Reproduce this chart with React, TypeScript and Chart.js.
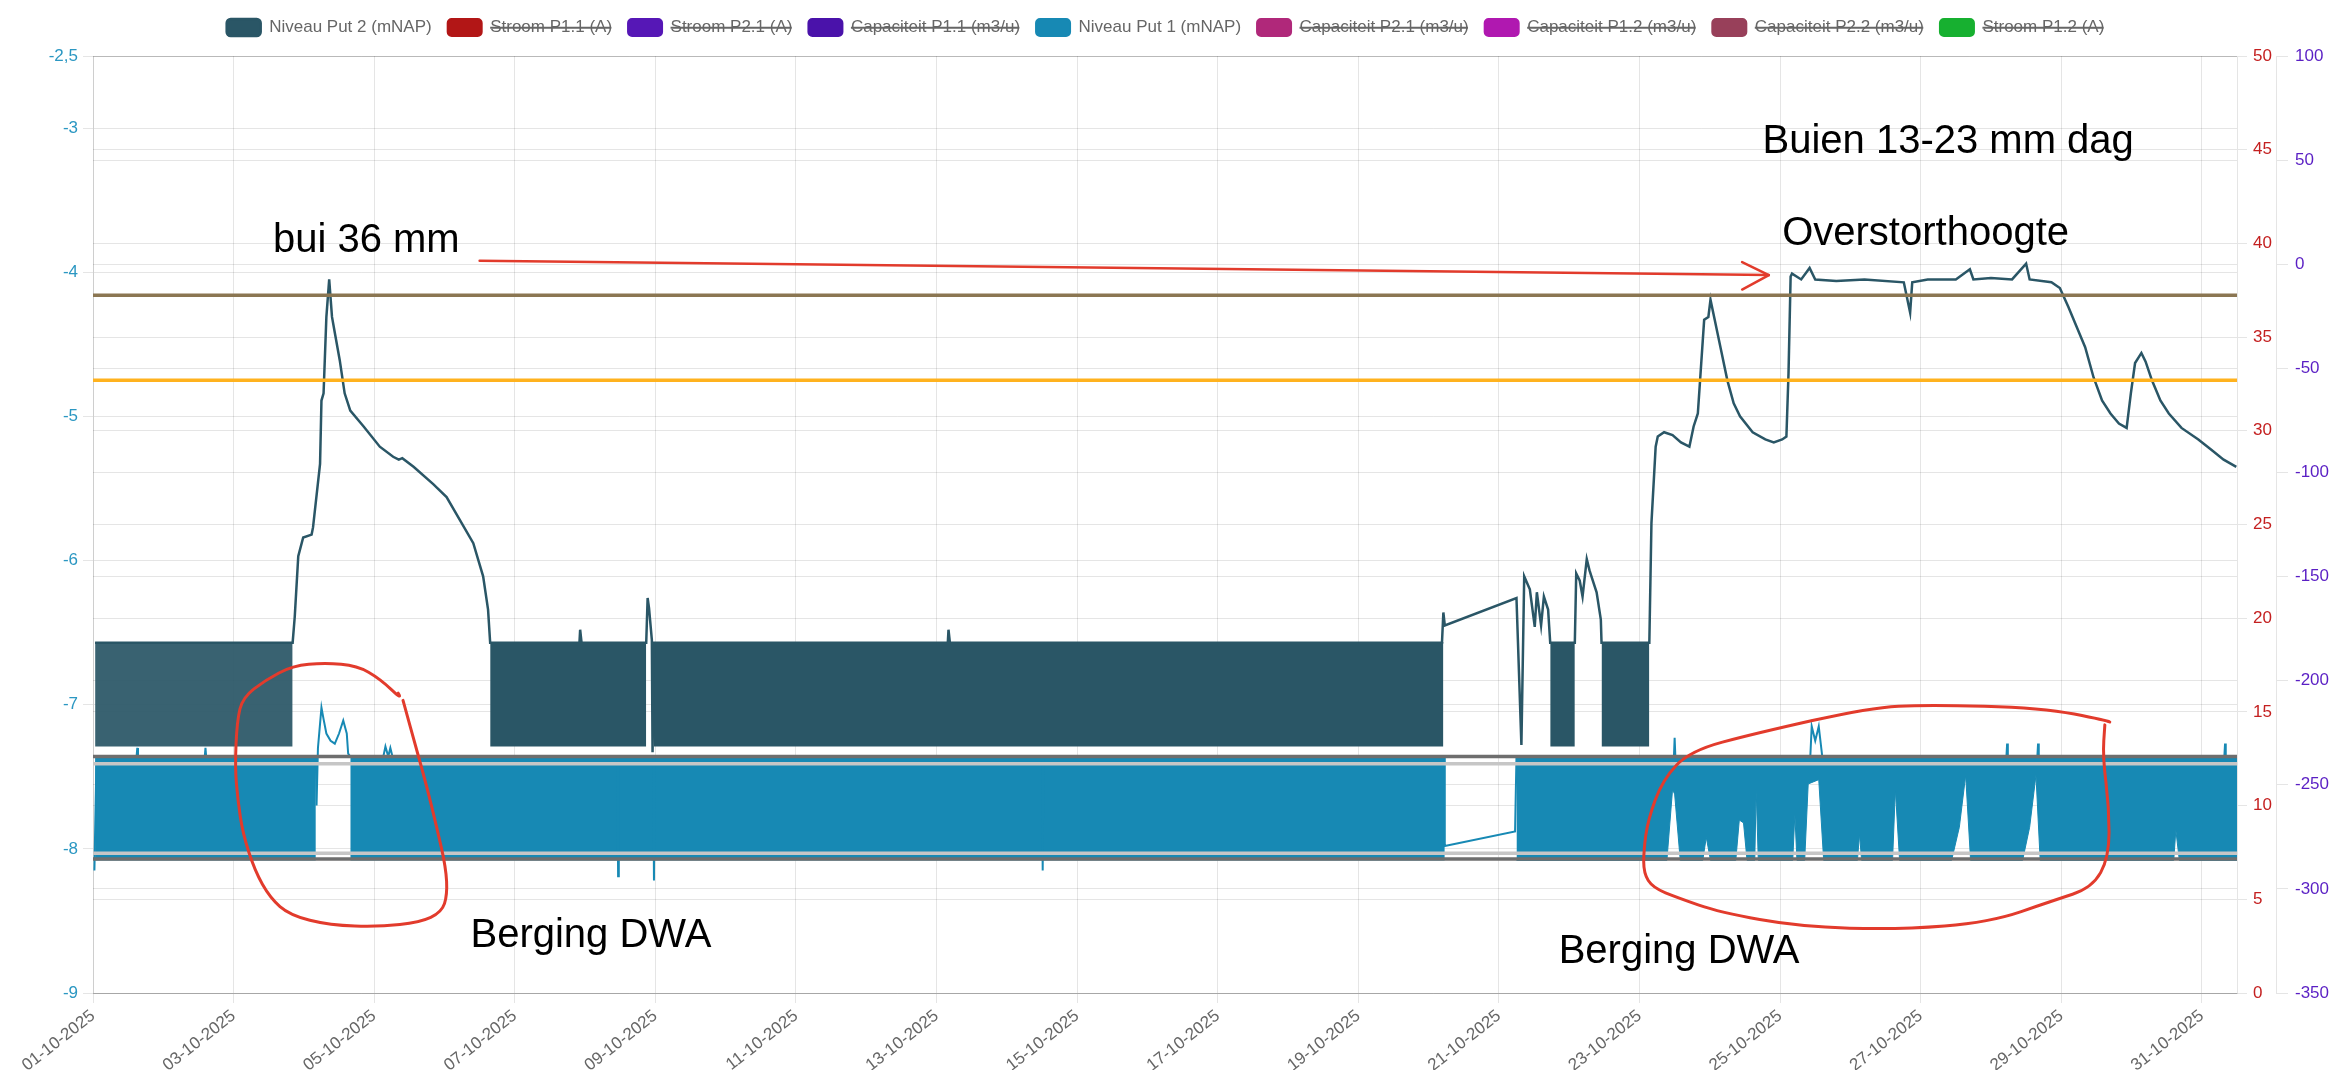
import React, { useEffect, useRef } from 'react';
import { Chart, registerables, layouts } from 'chart.js';

Chart.register(...registerables);

const FONT = '"Liberation Sans", Arial, Helvetica, sans-serif';

// ---------- axes ----------
const X_MIN = 0;
const X_MAX = 30.5;
const X_TICK_DAYS = [0, 2, 4, 6, 8, 10, 12, 14, 16, 18, 20, 22, 24, 26, 28, 30];
const X_TICK_LABELS = [
  '01-10-2025', '03-10-2025', '05-10-2025', '07-10-2025', '09-10-2025', '11-10-2025',
  '13-10-2025', '15-10-2025', '17-10-2025', '19-10-2025', '21-10-2025', '23-10-2025',
  '25-10-2025', '27-10-2025', '29-10-2025', '31-10-2025',
];
const LEVEL_TICKS = [-9, -8, -7, -6, -5, -4, -3, -2.5];
const LEVEL_TICK_LABELS = ['-9', '-8', '-7', '-6', '-5', '-4', '-3', '-2,5'];
const STROOM_TICKS = [0, 5, 10, 15, 20, 25, 30, 35, 40, 45, 50];
const CAP_TICKS = [-350, -300, -250, -200, -150, -100, -50, 0, 50, 100];

// ---------- legend series ----------
const SERIES_NAMES = [
  'Niveau Put 2 (mNAP)', 'Stroom P1.1 (A)', 'Stroom P2.1 (A)', 'Capaciteit P1.1 (m3/u)',
  'Niveau Put 1 (mNAP)', 'Capaciteit P2.1 (m3/u)', 'Capaciteit P1.2 (m3/u)',
  'Capaciteit P2.2 (m3/u)', 'Stroom P1.2 (A)',
];
const SERIES_COLORS = [
  '#2a5666', '#b21616', '#5617b6', '#4a12aa', '#1789b4', '#b0287a', '#b018b0', '#98405a', '#17b030',
];
const SERIES_AXIS = ['y', 'y1', 'y1', 'y2', 'y', 'y2', 'y2', 'y2', 'y1'];
const SERIES_HIDDEN = [false, true, true, true, false, true, true, true, true];

// ---------- Niveau Put 2 (trace) ----------
const PUT2_DAYS = [
  0.03, 2.84, 2.87, 2.92, 2.99, 3.11, 3.13, 3.23, 3.25, 3.28, 3.32, 3.36, 3.40, 3.44, 3.51, 3.58,
  3.66, 3.85, 4.08, 4.27, 4.35, 4.40, 4.56, 4.84, 5.03, 5.22, 5.41, 5.55, 5.62, 5.65, 6.92, 6.93,
  6.95, 7.87, 7.89, 7.91, 7.95, 7.96, 7.98, 12.16, 12.17, 12.19, 19.19, 19.21, 19.23, 20.25, 20.27,
  20.32, 20.36, 20.44, 20.51, 20.54, 20.60, 20.64, 20.70, 20.73, 21.08, 21.10, 21.15, 21.19, 21.25,
  21.29, 21.39, 21.45, 21.46, 22.14, 22.17, 22.23, 22.26, 22.35, 22.47, 22.59, 22.71, 22.77, 22.83,
  22.92, 22.98, 23.01, 23.07, 23.16, 23.25, 23.34, 23.43, 23.61, 23.79, 23.91, 24.03, 24.09, 24.12,
  24.15, 24.17, 24.30, 24.42, 24.50, 24.80, 25.20, 25.76, 25.85, 25.88, 26.10, 26.50, 26.70, 26.75,
  27.00, 27.30, 27.50, 27.55, 27.86, 27.98, 28.10, 28.22, 28.34, 28.46, 28.58, 28.70, 28.82, 28.93,
  28.99, 29.05, 29.14, 29.20, 29.29, 29.41, 29.53, 29.71, 29.95, 30.13, 30.31, 30.49,
];
const PUT2_VALUES = [
  -6.57, -6.57, -6.39, -5.97, -5.84, -5.82, -5.77, -5.33, -4.89, -4.84, -4.31, -4.05, -4.31, -4.42, -4.61, -4.84,
  -4.96, -5.07, -5.21, -5.28, -5.30, -5.29, -5.35, -5.47, -5.56, -5.72, -5.88, -6.11, -6.34, -6.57, -6.57, -6.48,
  -6.57, -6.57, -6.26, -6.33, -6.55, -7.33, -6.57, -6.57, -6.48, -6.57, -6.57, -6.36, -6.45, -6.26, -6.55,
  -7.28, -6.11, -6.20, -6.46, -6.22, -6.45, -6.25, -6.34, -6.57, -6.57, -6.09, -6.14, -6.25, -5.99,
  -6.07, -6.22, -6.41, -6.57, -6.57, -5.74, -5.21, -5.14, -5.11, -5.13, -5.18, -5.21, -5.07, -4.98,
  -4.33, -4.31, -4.19, -4.33, -4.54, -4.75, -4.91, -5.00, -5.11, -5.16, -5.18, -5.16, -5.14, -4.70,
  -4.03, -4.01, -4.05, -3.97, -4.05, -4.06, -4.05, -4.07, -4.28, -4.07, -4.05, -4.05, -3.98, -4.05,
  -4.04, -4.05, -3.94, -4.05, -4.07, -4.11, -4.24, -4.38, -4.52, -4.73, -4.89, -4.98, -5.05, -5.08,
  -4.84, -4.63, -4.56, -4.62, -4.75, -4.89, -4.98, -5.08, -5.16, -5.23, -5.30, -5.35,
];
// Put 2 pump-cycle band (dense on/off switching) read as envelope segments
const PUT2_BAND_START = [0.03, 5.65, 7.98, 20.73, 21.46];
const PUT2_BAND_END = [2.84, 7.87, 19.21, 21.08, 22.14];
const PUT2_BAND_TOP = [-6.57, -6.57, -6.57, -6.57, -6.57];
const PUT2_BAND_BOTTOM = [-7.29, -7.29, -7.29, -7.29, -7.29];

// ---------- Niveau Put 1 (trace) ----------
const PUT1_DAYS = [
  0.02, 0.05, 0.62, 0.63, 0.64, 1.59, 1.60, 1.61, 3.17, 3.18, 3.20, 3.25, 3.28, 3.32, 3.38, 3.44,
  3.50, 3.56, 3.61, 3.63, 3.66, 4.13, 4.16, 4.20, 4.23, 4.26, 7.46, 7.47, 7.48, 7.97, 7.98, 7.99,
  13.50, 13.51, 13.52, 19.22, 19.23, 20.23, 20.25, 22.49, 22.50, 22.51, 24.43, 24.45, 24.50, 24.55,
  24.60, 27.22, 27.23, 27.24, 27.66, 27.67, 27.68, 30.32, 30.33, 30.34, 30.49,
];
const PUT1_VALUES = [
  -8.15, -7.36, -7.36, -7.30, -7.36, -7.36, -7.30, -7.36, -7.36, -7.70, -7.30, -7.02, -7.10, -7.20, -7.25, -7.27,
  -7.20, -7.11, -7.20, -7.34, -7.36, -7.36, -7.29, -7.36, -7.30, -7.36, -7.36, -8.19, -7.36, -7.36, -8.22, -7.36,
  -7.36, -8.15, -7.36, -7.36, -7.98, -7.88, -7.36, -7.36, -7.23, -7.36, -7.36, -7.15, -7.25, -7.15,
  -7.36, -7.36, -7.27, -7.36, -7.36, -7.27, -7.36, -7.36, -7.27, -7.36, -7.36,
];
// Put 1 pump-cycle band, constant envelope parts
const PUT1_BAND_START = [0.03, 3.66];
const PUT1_BAND_END = [3.17, 19.23];
const PUT1_BAND_TOP = [-7.36, -7.36];
const PUT1_BAND_BOTTOM = [-8.08, -8.08];
// Put 1 band after 20-10 (bottom envelope with storage gaps)
const PUT1_LATE_DAYS = [
  20.25, 22.39, 22.47, 22.50, 22.58, 22.90, 22.95, 23.01, 23.37, 23.42, 23.48, 23.53, 23.64, 23.66,
  23.69, 24.18, 24.21, 24.24, 24.35, 24.40, 24.55, 24.62, 25.10, 25.13, 25.16, 25.60, 25.64, 25.70,
  26.44, 26.55, 26.64, 26.71, 27.45, 27.55, 27.64, 27.70, 29.60, 29.63, 29.68, 30.50,
];
const PUT1_LATE_TOP = -7.36;
const PUT1_LATE_BOTTOM = [
  -8.08, -8.08, -7.59, -7.62, -8.08, -8.08, -7.92, -8.08, -8.08, -7.80, -7.82, -8.08, -8.08, -7.59,
  -8.08, -8.08, -7.76, -8.08, -8.08, -7.55, -7.52, -8.08, -8.08, -7.90, -8.08, -8.08, -7.59, -8.08,
  -8.08, -7.85, -7.49, -8.08, -8.08, -7.85, -7.49, -8.08, -8.08, -7.87, -8.08, -8.08,
];

// ---------- horizontal reference levels ----------
const REF_LEVELS = [-4.16, -4.75, -7.41, -8.03, -7.36, -8.07];
const REF_COLORS = ['#8b7652', '#ffb21e', '#c6c6c6', '#c6c6c6', '#6e6e6e', '#6e6e6e'];

// ---------- hand-drawn notes (data coordinates) ----------
const NOTE_TEXTS = ['bui 36 mm', 'Buien 13-23 mm dag', 'Overstorthoogte', 'Berging DWA', 'Berging DWA'];
const NOTE_DAYS = [2.56, 23.75, 24.03, 5.37, 20.85];
const NOTE_VALUES = [-3.86, -3.17, -3.81, -8.68, -8.79];
const ARROW_DAYS = [5.50, 23.84];
const ARROW_VALUES = [-3.92, -4.02];
const ARROW_HEAD_DAYS = [23.46, 23.84, 23.46];
const ARROW_HEAD_VALUES = [-3.93, -4.02, -4.12];
const RING1_DAYS = [4.34, 4.41, 4.08, 3.76, 3.30, 2.84, 2.45, 2.13, 2.05, 2.02, 2.06, 2.13, 2.30, 2.52, 2.80, 3.37, 4.08, 4.65, 4.96, 5.04, 5.02, 4.89, 4.75, 4.58, 4.45, 4.41];
const RING1_VALUES = [-6.92, -6.97, -6.82, -6.73, -6.71, -6.73, -6.83, -6.95, -7.11, -7.43, -7.66, -7.89, -8.15, -8.34, -8.46, -8.53, -8.54, -8.51, -8.44, -8.32, -8.13, -7.85, -7.57, -7.27, -7.04, -6.97];
const RING2_DAYS = [28.69, 28.65, 27.72, 26.09, 25.28, 23.64, 22.72, 22.33, 22.12, 22.06, 22.06, 22.19, 22.55, 23.14, 24.28, 25.70, 26.98, 27.88, 28.44, 28.68, 28.68, 28.59, 28.62];
const RING2_VALUES = [-7.12, -7.11, -7.02, -7.00, -7.02, -7.20, -7.32, -7.52, -7.80, -8.01, -8.17, -8.27, -8.34, -8.44, -8.54, -8.56, -8.51, -8.36, -8.27, -8.06, -7.71, -7.36, -7.14];
const NOTE_RED = '#e23b2c';

// ---------- layout ----------
const CANVAS_W = 2331;
const CANVAS_H = 1070;
const LEFT_AXIS_W = 93;
const RED_AXIS_W = 39;
const PURPLE_AXIS_W = 55;
const X_AXIS_H = 77;
const LEGEND_GAP = 10;

const pts = (days: number[], vals: number[]) => days.map((d, i) => ({ x: d, y: vals[i] }));

const spacerPlugin = {
  id: 'legendSpacer',
  beforeInit(chart: any) {
    const box: any = {
      position: 'top', weight: 500, fullSize: true, options: {},
      left: 0, top: 0, right: 0, bottom: 0, width: 0, height: 0,
      isHorizontal() { return true; },
      update(maxWidth: number) { this.width = maxWidth; this.height = LEGEND_GAP; },
      draw() {},
    };
    layouts.addBox(chart, box);
  },
};

function smoothPath(ctx: CanvasRenderingContext2D, p: { x: number; y: number }[]) {
  ctx.beginPath();
  ctx.moveTo(p[0].x, p[0].y);
  for (let i = 1; i < p.length - 1; i++) {
    const mx = (p[i].x + p[i + 1].x) / 2;
    const my = (p[i].y + p[i + 1].y) / 2;
    ctx.quadraticCurveTo(p[i].x, p[i].y, mx, my);
  }
  ctx.lineTo(p[p.length - 1].x, p[p.length - 1].y);
  ctx.stroke();
}

const notesPlugin = {
  id: 'handNotes',
  afterDraw(chart: any) {
    const { ctx, scales } = chart;
    const sx = scales.x;
    const sy = scales.y;
    const map = (days: number[], vals: number[]) =>
      days.map((d, i) => ({ x: sx.getPixelForValue(d), y: sy.getPixelForValue(vals[i]) }));
    ctx.save();
    ctx.strokeStyle = NOTE_RED;
    ctx.lineWidth = 3;
    ctx.lineJoin = 'round';
    ctx.lineCap = 'round';
    smoothPath(ctx, map(RING1_DAYS, RING1_VALUES));
    smoothPath(ctx, map(RING2_DAYS, RING2_VALUES));
    ctx.lineWidth = 2.5;
    const a = map(ARROW_DAYS, ARROW_VALUES);
    ctx.beginPath();
    ctx.moveTo(a[0].x, a[0].y);
    ctx.lineTo(a[1].x, a[1].y);
    ctx.stroke();
    const h = map(ARROW_HEAD_DAYS, ARROW_HEAD_VALUES);
    ctx.beginPath();
    ctx.moveTo(h[0].x, h[0].y);
    ctx.lineTo(h[1].x, h[1].y);
    ctx.lineTo(h[2].x, h[2].y);
    ctx.stroke();
    ctx.fillStyle = '#000';
    ctx.font = '40px ' + FONT;
    ctx.textBaseline = 'alphabetic';
    ctx.textAlign = 'left';
    NOTE_TEXTS.forEach((t, i) => {
      ctx.fillText(t, sx.getPixelForValue(NOTE_DAYS[i]), sy.getPixelForValue(NOTE_VALUES[i]));
    });
    ctx.restore();
  },
};

function buildDatasets() {
  const ds: any[] = [];
  SERIES_NAMES.forEach((name, i) => {
    let data: any[] = [];
    if (i === 0) data = pts(PUT2_DAYS, PUT2_VALUES);
    if (i === 4) data = pts(PUT1_DAYS, PUT1_VALUES);
    ds.push({
      label: name,
      data,
      hidden: SERIES_HIDDEN[i],
      borderColor: SERIES_COLORS[i],
      backgroundColor: SERIES_COLORS[i],
      borderWidth: i === 0 ? 2.5 : 2,
      pointRadius: 0,
      fill: false,
      tension: 0,
      yAxisID: SERIES_AXIS[i],
      order: 2,
    });
  });
  PUT2_BAND_START.forEach((s, i) => {
    const c = i === 0 ? 'rgba(42,86,102,0.93)' : SERIES_COLORS[0];
    ds.push({
      label: 'p2band' + i, inLegend: false,
      data: [{ x: s, y: PUT2_BAND_TOP[i] }, { x: PUT2_BAND_END[i], y: PUT2_BAND_TOP[i] }],
      borderColor: c, backgroundColor: c, borderWidth: 1, pointRadius: 0,
      fill: { target: { value: PUT2_BAND_BOTTOM[i] } }, yAxisID: 'y', order: 3,
    });
  });
  PUT1_BAND_START.forEach((s, i) => {
    ds.push({
      label: 'p1band' + i, inLegend: false,
      data: [{ x: s, y: PUT1_BAND_TOP[i] }, { x: PUT1_BAND_END[i], y: PUT1_BAND_TOP[i] }],
      borderColor: SERIES_COLORS[4], backgroundColor: SERIES_COLORS[4], borderWidth: 1, pointRadius: 0,
      fill: { target: { value: PUT1_BAND_BOTTOM[i] } }, yAxisID: 'y', order: 3,
    });
  });
  ds.push({
    label: 'p1lateTop', inLegend: false,
    data: PUT1_LATE_DAYS.map((d) => ({ x: d, y: PUT1_LATE_TOP })),
    borderColor: SERIES_COLORS[4], backgroundColor: SERIES_COLORS[4], borderWidth: 1, pointRadius: 0,
    fill: '+1', yAxisID: 'y', order: 3,
  });
  ds.push({
    label: 'p1lateBottom', inLegend: false,
    data: pts(PUT1_LATE_DAYS, PUT1_LATE_BOTTOM),
    borderColor: SERIES_COLORS[4], backgroundColor: SERIES_COLORS[4], borderWidth: 1, pointRadius: 0,
    fill: false, yAxisID: 'y', order: 3,
  });
  REF_LEVELS.forEach((v, i) => {
    ds.push({
      label: 'ref' + i, inLegend: false,
      data: [{ x: X_MIN, y: v }, { x: X_MAX, y: v }],
      borderColor: REF_COLORS[i], backgroundColor: REF_COLORS[i], borderWidth: 3.5, pointRadius: 0,
      fill: false, yAxisID: 'y', order: 1,
    });
  });
  return ds;
}

export default function App() {
  const canvasRef = useRef<HTMLCanvasElement | null>(null);

  useEffect(() => {
    if (!canvasRef.current) return;
    Chart.defaults.font.family = FONT;
    const tickFont = { size: 17, family: FONT };
    const chart = new Chart(canvasRef.current, {
      type: 'line',
      data: { datasets: buildDatasets() },
      plugins: [spacerPlugin, notesPlugin],
      options: {
        responsive: false,
        animation: false,
        devicePixelRatio: 1,
        events: [],
        layout: { padding: { top: 3, left: 0, right: 0, bottom: 0 } },
        plugins: {
          tooltip: { enabled: false },
          legend: {
            position: 'top',
            labels: {
              boxWidth: 34,
              boxHeight: 17,
              padding: 16,
              color: '#666',
              font: { size: 17, family: FONT },
              useBorderRadius: true,
              borderRadius: 4,
              filter: (item: any, data: any) => data.datasets[item.datasetIndex].inLegend !== false,
            },
          },
        },
        scales: {
          x: {
            type: 'linear',
            min: X_MIN,
            max: X_MAX,
            afterBuildTicks: (scale: any) => { scale.ticks = X_TICK_DAYS.map((v) => ({ value: v })); },
            afterFit: (scale: any) => { scale.height = X_AXIS_H; },
            ticks: {
              autoSkip: false,
              minRotation: 38,
              maxRotation: 38,
              color: '#666',
              font: tickFont,
              callback: (v: any) => { const i = X_TICK_DAYS.indexOf(Number(v)); return i >= 0 ? X_TICK_LABELS[i] : ''; },
            },
            grid: { tickLength: 10 },
          },
          y: {
            type: 'linear',
            position: 'left',
            min: -9,
            max: -2.5,
            afterBuildTicks: (scale: any) => { scale.ticks = LEVEL_TICKS.map((v) => ({ value: v })); },
            afterFit: (scale: any) => { scale.width = LEFT_AXIS_W; },
            ticks: {
              color: '#2b97c2',
              font: tickFont,
              padding: 5,
              callback: (v: any) => { const i = LEVEL_TICKS.indexOf(Number(v)); return i >= 0 ? LEVEL_TICK_LABELS[i] : ''; },
            },
            grid: { tickLength: 10 },
          },
          y1: {
            type: 'linear',
            position: 'right',
            weight: 0,
            min: 0,
            max: 50,
            afterBuildTicks: (scale: any) => { scale.ticks = STROOM_TICKS.map((v) => ({ value: v })); },
            afterFit: (scale: any) => { scale.width = RED_AXIS_W; },
            ticks: { color: '#c42020', font: tickFont, padding: 6 },
            grid: { tickLength: 10 },
          },
          y2: {
            type: 'linear',
            position: 'right',
            weight: 1,
            min: -350,
            max: 100,
            afterBuildTicks: (scale: any) => { scale.ticks = CAP_TICKS.map((v) => ({ value: v })); },
            afterFit: (scale: any) => { scale.width = PURPLE_AXIS_W; },
            ticks: { color: '#5a1fc4', font: tickFont, padding: 7 },
            grid: { tickLength: 12 },
          },
        },
      } as any,
    });
    return () => chart.destroy();
  }, []);

  return (
    <div style={{ position: 'absolute', left: 0, top: 0, width: CANVAS_W, height: CANVAS_H, background: '#fff' }}>
      <canvas ref={canvasRef} width={CANVAS_W} height={CANVAS_H} style={{ display: 'block', width: CANVAS_W, height: CANVAS_H }} />
    </div>
  );
}
